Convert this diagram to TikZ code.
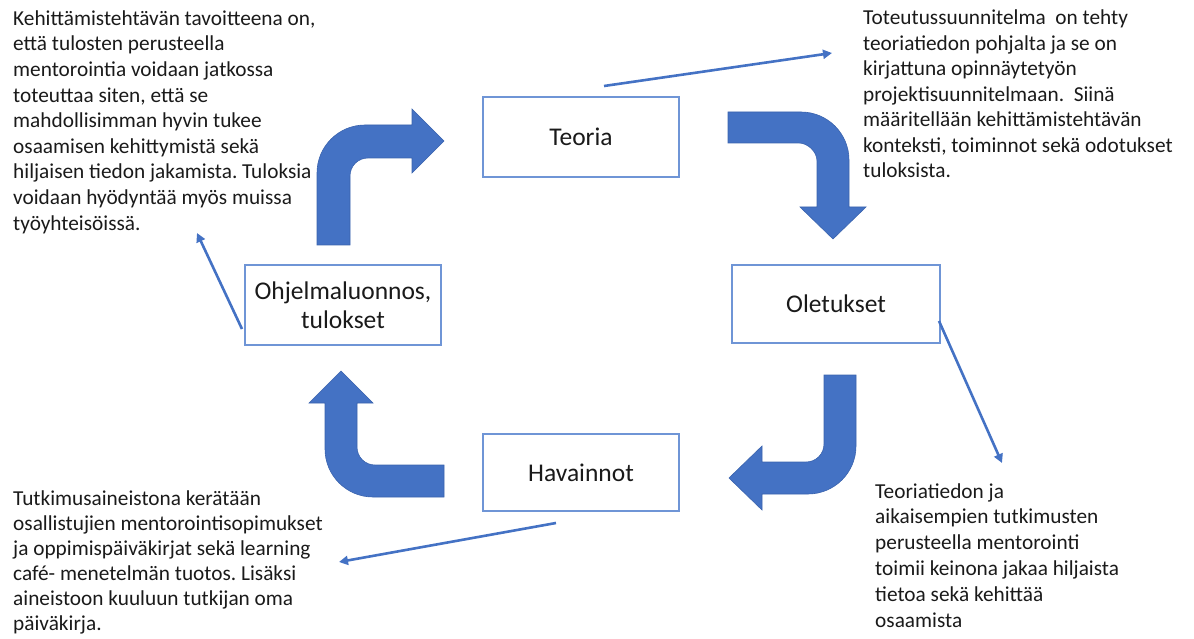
\documentclass[tikz,border=0pt]{standalone}
\usepackage{fontspec}
\setmainfont{Carlito}
\usetikzlibrary{arrows.meta}
\definecolor{accent}{HTML}{4472C4}
\definecolor{accentdark}{HTML}{3A63AD}
\definecolor{boxline}{HTML}{6F95D6}
\definecolor{ink}{HTML}{1A1A1A}
\frenchspacing
\begin{document}
\begin{tikzpicture}[x=1pt,y=-1pt,
  stagebox/.style={draw=boxline,line width=1.1pt,fill=white,minimum width=196pt,minimum height=80pt,
    inner sep=0pt,align=center,text=ink,font=\fontsize{25.5}{29}\selectfont},
  notetext/.style={anchor=base west,inner sep=0pt,align=left,text=ink},
  bendarrow/.style={fill=accent,draw=accentdark,line width=0.6pt,line join=miter},
  pointer/.style={draw=accent,line width=2.6pt,-{Triangle[length=9pt,width=9pt]}}]
\useasboundingbox (0,0) rectangle (1194,639);

% stages of the cycle
\node[stagebox] (teoria) at (581,137) {Teoria};
\node[stagebox,minimum width=208pt,minimum height=78pt] (oletukset) at (836,304) {Oletukset};
\node[stagebox,minimum height=77pt] (havainnot) at (581,472.5) {Havainnot};
\node[stagebox] (ohjelma) at (343,305) {Ohjelmaluonnos,\\tulokset};

% bent block arrows between the stages
\fill[bendarrow] (317,245) -- (317,173) .. controls (317,146.5) and (338.5,125) .. (365,125)
  -- (412,125) -- (412,109) -- (444,141) -- (412,173) -- (412,158) -- (368,158)
  .. controls (358,158) and (350,166) .. (350,176) -- (350,245) -- cycle;
\fill[bendarrow] (728,112) -- (801,112) .. controls (827.5,112) and (849,133.5) .. (849,160)
  -- (849,207) -- (866,207) -- (833,239) -- (800,207) -- (817,207) -- (817,161)
  .. controls (817,151) and (807,143) .. (799,143) -- (728,143) -- cycle;
\fill[bendarrow] (824,375) -- (856,375) -- (856,446) .. controls (856,472.5) and (834.5,494) .. (808,494)
  -- (762,494) -- (762,510) -- (729,478) -- (762,446) -- (762,462) -- (806,462)
  .. controls (816,462) and (824,454) .. (824,444) -- cycle;
\fill[bendarrow] (444,465) -- (375,465) .. controls (365,465) and (357,457) .. (357,447)
  -- (357,403) -- (373,403) -- (341,371) -- (309,403) -- (325,403) -- (325,449)
  .. controls (325,475.5) and (346.5,497) .. (373,497) -- (444,497) -- cycle;

% explanatory notes (each placed by the baseline of its last line)
\node[notetext,font=\fontsize{21.3}{25.6}\selectfont] (tavoite) at (13,230) {Kehittämistehtävän tavoitteena on,\\
että tulosten perusteella\\
mentorointia voidaan jatkossa\\
toteuttaa siten, että se\\
mahdollisimman hyvin tukee\\
osaamisen kehittymistä sekä\\
hiljaisen tiedon jakamista. Tuloksia\\
voidaan hyödyntää myös muissa\\
työyhteisöissä.};
\node[notetext,font=\fontsize{21.3}{25.5}\selectfont] (suunnitelma) at (863,178) {Toteutussuunnitelma \ on tehty\\
teoriatiedon pohjalta ja se on\\
kirjattuna opinnäytetyön\\
projektisuunnitelmaan. \ Siinä\\
määritellään kehittämistehtävän\\
konteksti, toiminnot sekä odotukset\\
tuloksista.};
\node[notetext,font=\fontsize{21.3}{25}\selectfont] (aineisto) at (13,630) {Tutkimusaineistona kerätään\\
osallistujien mentorointisopimukset\\
ja oppimispäiväkirjat sekä learning\\
café- menetelmän tuotos. Lisäksi\\
aineistoon kuuluun tutkijan oma\\
päiväkirja.};
\node[notetext,font=\fontsize{21.3}{25.8}\selectfont] (oletus) at (875,627) {Teoriatiedon ja\\
aikaisempien tutkimusten\\
perusteella mentorointi\\
toimii keinona jakaa hiljaista\\
tietoa sekä kehittää\\
osaamista};

% pointers from the stages to their notes
\coordinate (p1s) at (604,86);  \coordinate (p1e) at (832,53);
\coordinate (p2s) at (939,321); \coordinate (p2e) at (1002,463);
\coordinate (p3s) at (556,523); \coordinate (p3e) at (339,562);
\coordinate (p4s) at (242,329); \coordinate (p4e) at (197,233);
\draw[pointer] (p1s) -- (p1e);
\draw[pointer] (p2s) -- (p2e);
\draw[pointer] (p3s) -- (p3e);
\draw[pointer] (p4s) -- (p4e);
\end{tikzpicture}
\end{document}
